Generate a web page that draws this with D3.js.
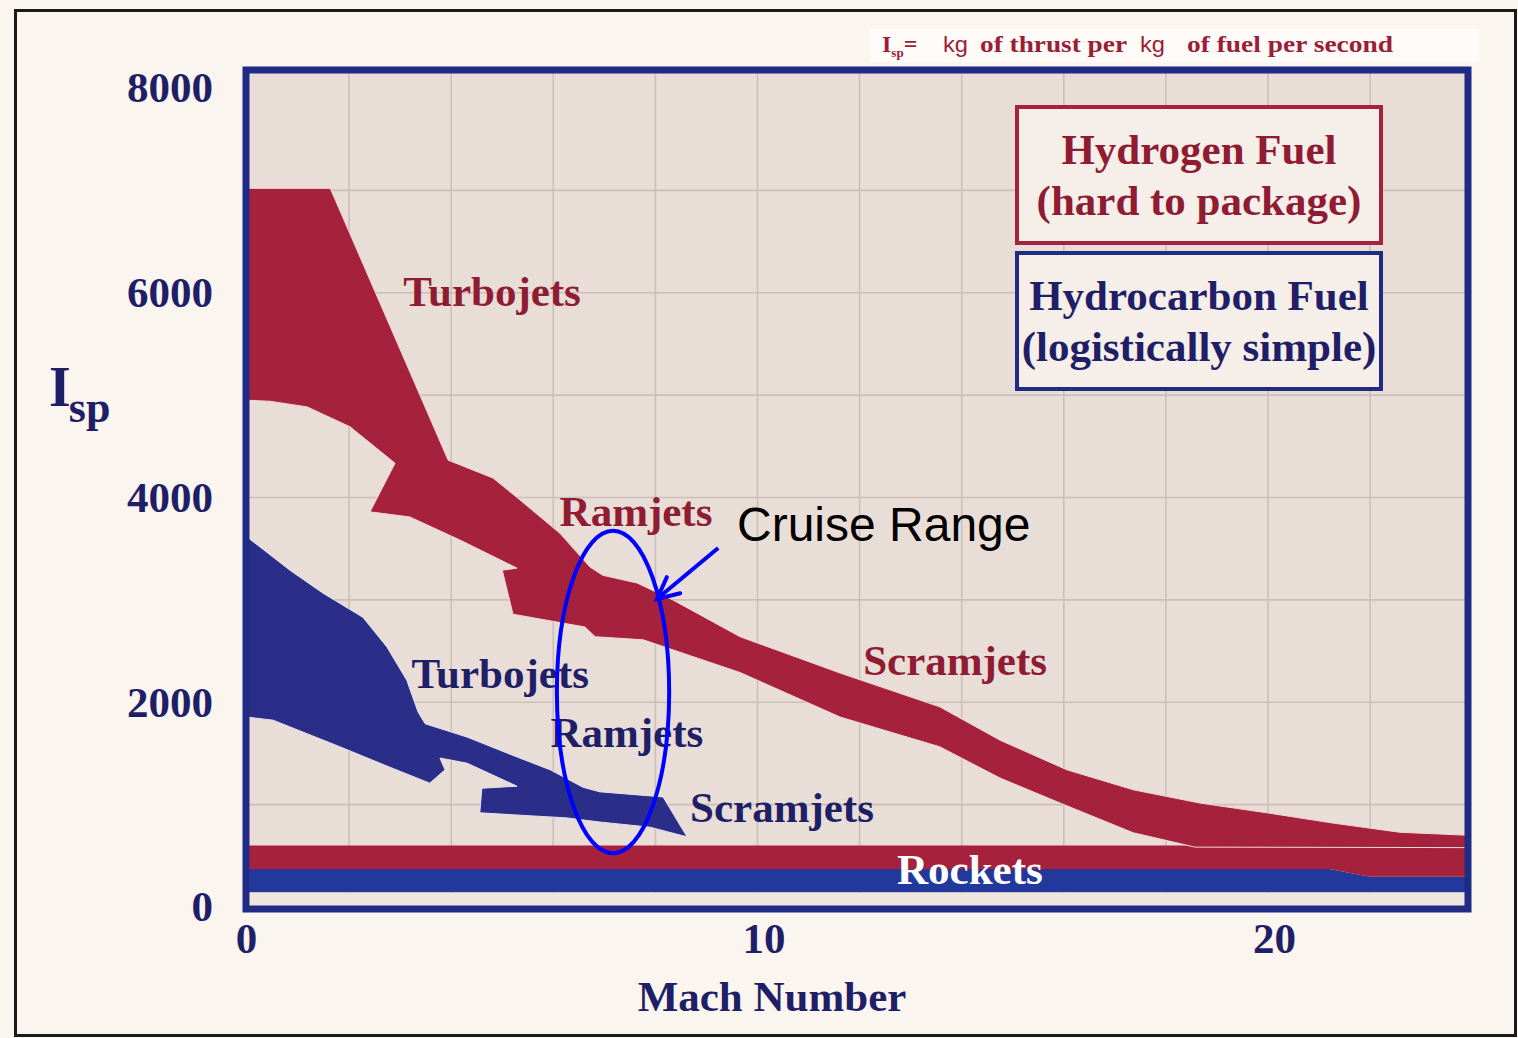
<!DOCTYPE html>
<html><head><meta charset="utf-8">
<script src="https://cdn.jsdelivr.net/npm/d3@7"></script>
<style>body{margin:0;background:#fbf5ef}svg{display:block}</style>
</head><body>
<svg id="c" width="1518" height="1038"></svg>
<script>
// ---------- data ----------
const machTicks = [0, 10, 20];
const ispTicks = [0, 2000, 4000, 6000, 8000];
const machGrid = [2, 4, 6, 8, 10, 12, 14, 16, 18, 20, 22];
const ispGrid = [1000, 2000, 3000, 4000, 5000, 6000, 7000];

// Hydrogen-fuel envelope (turbojet -> ramjet -> scramjet), [Mach, Isp]
const hydrogenOutline = [
  [0, 7020], [1.63, 7020], [3.94, 4365], [4.82, 4190], [5.35, 3975], [6.13, 3650],
  [6.72, 3320], [6.97, 3240], [7.64, 3165], [8.34, 3000], [9.66, 2640], [11.62, 2285],
  [13.57, 1955], [14.75, 1630], [16.06, 1340], [17.36, 1145], [18.67, 1015], [19.98, 920],
  [21.27, 820], [22.58, 730], [23.95, 700],
  [23.95, 580], [18.57, 585], [17.36, 725], [15.93, 1015], [14.75, 1260], [13.57, 1565],
  [11.62, 1855], [9.66, 2290], [7.76, 2610], [6.82, 2640], [6.62, 2735], [5.21, 2860],
  [5.0, 3290], [5.29, 3310], [4.17, 3585], [3.19, 3810], [2.41, 3860], [2.90, 4335],
  [2.02, 4690], [1.18, 4885], [0.45, 4940], [0, 4950]
];
// Hydrocarbon-fuel envelope, [Mach, Isp]
const hydrocarbonOutline = [
  [0, 3615], [0.84, 3290], [1.49, 3065], [2.27, 2830], [2.74, 2540], [3.13, 2215],
  [3.35, 1905], [3.49, 1790], [4.31, 1660], [5.29, 1465], [5.94, 1340], [6.58, 1170],
  [6.91, 1125], [8.15, 1075], [8.62, 685],
  [7.89, 780], [6.91, 830], [6.27, 870], [4.56, 920], [4.60, 1160], [5.29, 1180],
  [4.31, 1405], [3.78, 1455], [3.88, 1340], [3.58, 1210], [2.80, 1365], [1.82, 1565],
  [0.51, 1825], [0, 1855]
];
// Rocket bands: [Mach, low Isp, high Isp]
const rocketHydrogen = [[0, 370, 600], [21.2, 370, 600], [22.0, 295, 600], [23.95, 295, 600]];
const rocketHydrocarbon = [[0, 145, 370], [21.2, 145, 370], [22.0, 145, 295], [23.95, 145, 295]];

// Engine labels: [text, fuel, Mach, Isp]
const engineLabels = [
  ["Turbojets", "h2", 4.80, 5870],
  ["Ramjets", "h2", 7.62, 3720],
  ["Scramjets", "h2", 13.87, 2270],
  ["Turbojets", "hc", 4.96, 2140],
  ["Ramjets", "hc", 7.44, 1565],
  ["Scramjets", "hc", 10.48, 830],
  ["Rockets", "rk", 14.16, 225]
];
const legendLines = [
  ["Hydrogen Fuel", "(hard to package)"],
  ["Hydrocarbon Fuel", "(logistically simple)"]
];
const cruiseRange = { mach: 7.17, isp: 2100, halfMach: 1.1, halfIsp: 1575 };
const cruiseArrow = { from: [9.23, 3507], to: [8.03, 3008] };

// ---------- styles ----------
const RED = "#a6213b", NAVY = "#2b2e88", RED_TXT = "#8f1c33", NAVY_TXT = "#1f1f68";
const ROCKET_BLUE = "#22399b", FRAME = "#1f2b85";
const SERIF = "'Liberation Serif','Times New Roman',serif";
const SANS = "'Liberation Sans',Arial,sans-serif";
const FS = 43;

const svg = d3.select("#c");
const x = d3.scaleLinear().domain([0, 20]).range([247, 1268]);
const y = d3.scaleLinear().domain([0, 8000]).range([907, 88]);
const P = { l: 246, r: 1468, t: 70, b: 909 };

// page
svg.append("rect").attr("x", 0).attr("y", 0).attr("width", 1518).attr("height", 1038).attr("fill", "#fbf5ef");
svg.append("rect").attr("x", 15.5).attr("y", 10.5).attr("width", 1500).attr("height", 1025)
  .attr("fill", "none").attr("stroke", "#1a1a1a").attr("stroke-width", 3);

// plot bg
svg.append("rect").attr("x", P.l).attr("y", P.t).attr("width", P.r - P.l).attr("height", P.b - P.t).attr("fill", "#e9ddd7");
svg.append("defs").append("clipPath").attr("id", "clip").append("rect")
  .attr("x", P.l).attr("y", P.t).attr("width", P.r - P.l).attr("height", P.b - P.t);

const plot = svg.append("g").attr("clip-path", "url(#clip)");
// grid
plot.selectAll(".vg").data(machGrid).join("line")
  .attr("x1", d => x(d)).attr("x2", d => x(d)).attr("y1", P.t).attr("y2", P.b)
  .attr("stroke", "#cdbfb8").attr("stroke-width", 1.6);
plot.selectAll(".hg").data(ispGrid).join("line")
  .attr("y1", d => y(d)).attr("y2", d => y(d)).attr("x1", P.l).attr("x2", P.r)
  .attr("stroke", "#cdbfb8").attr("stroke-width", 1.6);

// rocket bands
const band = d3.area().x(d => x(d[0])).y0(d => y(d[1])).y1(d => y(d[2]));
plot.append("path").attr("d", band(rocketHydrocarbon)).attr("fill", ROCKET_BLUE);
plot.append("path").attr("d", band(rocketHydrogen)).attr("fill", RED);
plot.append("rect").attr("x", P.l).attr("y", y(140)).attr("width", P.r - P.l).attr("height", P.b - y(140)).attr("fill", "#efe5df");

// envelopes
const outline = d3.line().x(d => x(d[0])).y(d => y(d[1]));
plot.append("path").attr("d", outline(hydrogenOutline) + "Z").attr("fill", RED)
  .attr("stroke", "#f1d9d6").attr("stroke-width", 1);
plot.append("path").attr("d", outline(hydrocarbonOutline) + "Z").attr("fill", NAVY)
  .attr("stroke", "#e6e2ee").attr("stroke-width", 1);

// frame
svg.append("rect").attr("x", P.l).attr("y", P.t).attr("width", P.r - P.l).attr("height", P.b - P.t)
  .attr("fill", "none").attr("stroke", FRAME).attr("stroke-width", 7);

// axes
const yAxis = svg.append("g").attr("transform", `translate(${P.l},0)`)
  .call(d3.axisLeft(y).tickValues(ispTicks).tickSize(0).tickPadding(33).tickFormat(d3.format("d")));
const xAxis = svg.append("g").attr("transform", `translate(0,${P.b})`)
  .call(d3.axisBottom(x).tickValues(machTicks).tickSize(0).tickPadding(13));
[yAxis, xAxis].forEach(g => {
  g.select(".domain").remove();
  g.selectAll("text").attr("font-family", SERIF).attr("font-weight", "bold")
    .attr("font-size", FS).attr("fill", NAVY_TXT);
});
xAxis.selectAll(".tick text").attr("transform", d => `translate(${d === 0 ? -1 : 6},0)`);

svg.append("text").attr("x", 772).attr("y", 1011).attr("text-anchor", "middle")
  .attr("font-family", SERIF).attr("font-weight", "bold").attr("font-size", FS).attr("fill", NAVY_TXT)
  .text("Mach Number");
const ylab = svg.append("text").attr("x", 49).attr("y", 406)
  .attr("font-family", SERIF).attr("font-weight", "bold").attr("fill", NAVY_TXT);
ylab.append("tspan").attr("font-size", 56).text("I");
ylab.append("tspan").attr("font-size", 44).attr("dy", 16).attr("dx", -2).text("sp");

// engine labels
const labColor = { h2: RED_TXT, hc: NAVY_TXT, rk: "#ffffff" };
svg.selectAll(".lab").data(engineLabels).join("text")
  .attr("x", d => x(d[2])).attr("y", d => y(d[3])).attr("text-anchor", "middle")
  .attr("font-family", SERIF).attr("font-weight", "bold").attr("font-size", FS)
  .attr("fill", d => labColor[d[1]]).text(d => d[0]);

// legend boxes
const boxes = [{ y: 107, c: RED, t: RED_TXT }, { y: 253, c: FRAME, t: NAVY_TXT }];
boxes.forEach((b, i) => {
  svg.append("rect").attr("x", 1017).attr("y", b.y).attr("width", 364).attr("height", 136)
    .attr("fill", "#f6eee9").attr("stroke", b.c).attr("stroke-width", 4);
  legendLines[i].forEach((t, j) => {
    svg.append("text").attr("x", 1199).attr("y", b.y + 57 + j * 51).attr("text-anchor", "middle")
      .attr("font-family", SERIF).attr("font-weight", "bold").attr("font-size", FS)
      .attr("fill", b.t).text(t);
  });
});

// top note
svg.append("rect").attr("x", 870).attr("y", 29).attr("width", 609).attr("height", 33).attr("fill", "#fffbf8");
const noteG = svg.append("g").attr("fill", "#9a1e36").attr("font-weight", "bold");
const isp = noteG.append("text").attr("x", 882).attr("y", 52).attr("font-family", SERIF).attr("font-size", 24);
isp.append("tspan").text("I");
isp.append("tspan").attr("font-size", 13).attr("dy", 5).text("sp");
isp.append("tspan").attr("dy", -5).text("=");
const noteParts = [
  { t: "kg", x: 943, w: 25, f: SANS },
  { t: "of thrust per", x: 980, w: 147, f: SERIF },
  { t: "kg", x: 1140, w: 25, f: SANS },
  { t: "of fuel per second", x: 1187, w: 206, f: SERIF }
];
noteParts.forEach(p => {
  noteG.append("text").attr("x", p.x).attr("y", 52).attr("font-family", p.f)
    .attr("font-size", p.f === SANS ? 22 : 24).attr("font-weight", p.f === SANS ? "normal" : "bold")
    .attr("textLength", p.w).attr("lengthAdjust", "spacingAndGlyphs").text(p.t);
});

// cruise range annotation
svg.append("ellipse").attr("cx", x(cruiseRange.mach)).attr("cy", y(cruiseRange.isp))
  .attr("rx", x(cruiseRange.mach + cruiseRange.halfMach) - x(cruiseRange.mach))
  .attr("ry", y(cruiseRange.isp) - y(cruiseRange.isp + cruiseRange.halfIsp))
  .attr("fill", "none").attr("stroke", "#0000ff").attr("stroke-width", 4);
const ax0 = x(cruiseArrow.from[0]), ay0 = y(cruiseArrow.from[1]);
const ax1 = x(cruiseArrow.to[0]), ay1 = y(cruiseArrow.to[1]);
svg.append("line").attr("x1", ax0).attr("y1", ay0).attr("x2", ax1).attr("y2", ay1)
  .attr("stroke", "#0000ff").attr("stroke-width", 4);
const ang = Math.atan2(ay0 - ay1, ax0 - ax1);
const hl = 24, spread = 0.45;
svg.append("path")
  .attr("d", `M${ax1 + hl * Math.cos(ang - spread)},${ay1 + hl * Math.sin(ang - spread)}L${ax1},${ay1}L${ax1 + hl * Math.cos(ang + spread)},${ay1 + hl * Math.sin(ang + spread)}`)
  .attr("fill", "none").attr("stroke", "#0000ff").attr("stroke-width", 4).attr("stroke-linecap", "round");
svg.append("text").attr("x", 737).attr("y", 541)
  .attr("font-family", SANS).attr("font-size", 48).attr("fill", "#000")
  .text("Cruise Range");
</script>
</body></html>
